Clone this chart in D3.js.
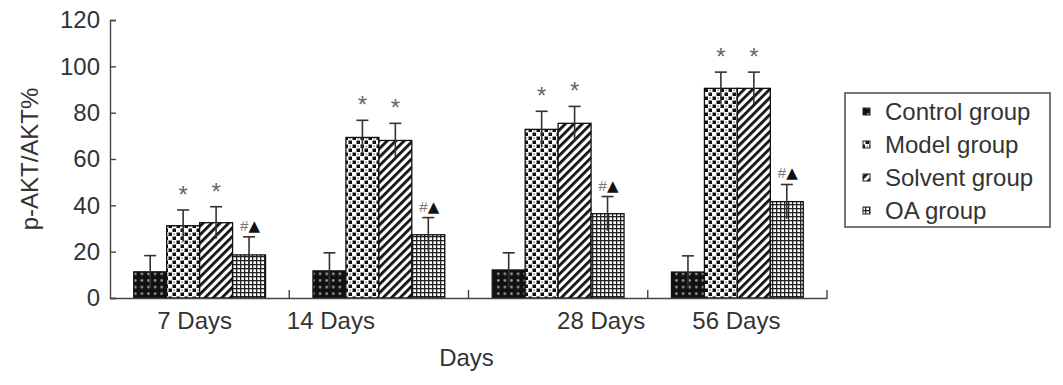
<!DOCTYPE html>
<html>
<head>
<meta charset="utf-8">
<script src="https://cdn.jsdelivr.net/npm/d3@7"></script>
<style>
  body { margin: 0; background: #fff; }
  text { font-family: "Liberation Sans", Arial, sans-serif; }
</style>
</head>
<body>
<div id="chart"></div>
<script>
// data
const categories = ['7 Days', '14 Days', '28 Days', '56 Days'];
const groups = ['Control group', 'Model group', 'Solvent group', 'OA group'];
const controlMean = [11.3, 11.7, 12.1, 11.2];
const controlSd = [7.0, 7.8, 7.4, 7.0];
const modelMean = [31.2, 69.3, 72.8, 90.5];
const modelSd = [6.8, 7.4, 7.8, 7.0];
const solventMean = [32.5, 68.0, 75.4, 90.5];
const solventSd = [6.9, 7.4, 7.3, 7.0];
const oaMean = [18.6, 27.3, 36.4, 41.6];
const oaSd = [7.8, 7.4, 7.4, 7.4];
const groupMarks = ['', '*', '*', '#▲'];
const yTicks = [0, 20, 40, 60, 80, 100, 120];

const means = [controlMean, modelMean, solventMean, oaMean];
const sds = [controlSd, modelSd, solventSd, oaSd];

const width = 1063, height = 385;
const margin = { top: 20, right: 236, bottom: 87, left: 110 };
// the category labels in the source sit off-centre
const labelShift = [-5, -48, 43, -1];

const svg = d3.select('#chart')
  .append('svg')
  .attr('width', width)
  .attr('height', height);

// fill patterns
const defs = svg.append('defs');

const pCtrl = defs.append('pattern').attr('id', 'p0')
  .attr('patternUnits', 'userSpaceOnUse').attr('width', 6.6).attr('height', 6.6);
pCtrl.append('rect').attr('width', 6.6).attr('height', 6.6).attr('fill', '#111');
pCtrl.append('circle').attr('cx', 3.3).attr('cy', 3.3).attr('r', 1.3).attr('fill', '#9a9a9a');

const pModel = defs.append('pattern').attr('id', 'p1')
  .attr('patternUnits', 'userSpaceOnUse').attr('width', 8).attr('height', 8);
pModel.append('rect').attr('width', 8).attr('height', 8).attr('fill', '#fff');
pModel.append('rect').attr('x', 0.5).attr('y', 0.5).attr('width', 3.5).attr('height', 3.5).attr('fill', '#111');
pModel.append('rect').attr('x', 4.5).attr('y', 4.5).attr('width', 3.5).attr('height', 3.5).attr('fill', '#111');
pModel.append('circle').attr('cx', 6.25).attr('cy', 2.25).attr('r', 0.9).attr('fill', '#999');

const pSolv = defs.append('pattern').attr('id', 'p2')
  .attr('patternUnits', 'userSpaceOnUse').attr('width', 6).attr('height', 6)
  .attr('patternTransform', 'rotate(45)');
pSolv.append('rect').attr('width', 6).attr('height', 6).attr('fill', '#fff');
pSolv.append('rect').attr('x', 0).attr('y', 0).attr('width', 2.8).attr('height', 6).attr('fill', '#111');

const pOa = defs.append('pattern').attr('id', 'p3')
  .attr('patternUnits', 'userSpaceOnUse').attr('width', 4).attr('height', 4);
pOa.append('rect').attr('width', 4).attr('height', 4).attr('fill', '#fff');
pOa.append('rect').attr('x', 0).attr('y', 0).attr('width', 1.3).attr('height', 4).attr('fill', '#222');
pOa.append('rect').attr('x', 0).attr('y', 0).attr('width', 4).attr('height', 1.3).attr('fill', '#222');

const fills = groups.map((g, i) => 'url(#p' + i + ')');

// scales
var x0 = d3.scaleBand()
  .domain(categories)
  .range([margin.left, width - margin.right]);

var x1 = d3.scaleBand()
  .domain(groups)
  .range([0, x0.bandwidth()])
  .paddingOuter(0.72);

var y = d3.scaleLinear()
  .domain([0, 120])
  .range([height - margin.bottom, margin.top]);

const y0 = y(0);

// rows: one per bar
const rows = [];
categories.forEach((c, ci) => {
  groups.forEach((g, gi) => {
    rows.push({ cat: c, group: g, gi: gi, mean: means[gi][ci], sd: sds[gi][ci] });
  });
});

// bars
svg.append('g')
  .selectAll('rect')
  .data(rows)
  .enter()
  .append('rect')
  .attr('x', d => x0(d.cat) + x1(d.group))
  .attr('y', d => y(d.mean))
  .attr('width', x1.bandwidth())
  .attr('height', d => y0 - y(d.mean))
  .attr('fill', d => fills[d.gi])
  .attr('stroke', '#111')
  .attr('stroke-width', 1.3);

// error bars
const cx = d => x0(d.cat) + x1(d.group) + x1.bandwidth() / 2;
const err = svg.append('g').attr('stroke', '#333').attr('stroke-width', 1.6);
err.selectAll('line.v')
  .data(rows)
  .enter()
  .append('line')
  .attr('class', 'v')
  .attr('x1', cx).attr('x2', cx)
  .attr('y1', d => y(d.mean - d.sd))
  .attr('y2', d => y(d.mean + d.sd));
err.selectAll('line.c')
  .data(rows)
  .enter()
  .append('line')
  .attr('class', 'c')
  .attr('x1', d => cx(d) - 6).attr('x2', d => cx(d) + 6)
  .attr('y1', d => y(d.mean + d.sd))
  .attr('y2', d => y(d.mean + d.sd));

// significance marks
svg.append('g')
  .selectAll('text')
  .data(rows.filter(d => groupMarks[d.gi] === '*'))
  .enter()
  .append('text')
  .attr('x', cx)
  .attr('y', d => y(d.mean + d.sd) - 7)
  .attr('text-anchor', 'middle')
  .attr('font-size', '24px')
  .attr('fill', '#666')
  .text('*');

const oaMarks = svg.append('g')
  .selectAll('text')
  .data(rows.filter(d => groupMarks[d.gi] === '#▲'))
  .enter()
  .append('text')
  .attr('x', d => cx(d) - 9)
  .attr('y', d => y(d.mean + d.sd) - 6)
  .attr('font-size', '15px');
oaMarks.append('tspan').attr('fill', '#777').text('#');
oaMarks.append('tspan').attr('fill', '#111').attr('font-family', 'DejaVu Sans').attr('font-size', '15px').text('▲');

// y axis
const yAxis = svg.append('g')
  .attr('transform', `translate(${margin.left},0)`)
  .call(d3.axisLeft(y).tickValues(yTicks).tickSize(-6).tickSizeOuter(-6).tickPadding(10));
yAxis.selectAll('path, line').attr('stroke', '#444').attr('stroke-width', 1.4);
yAxis.selectAll('text')
  .attr('font-size', '24px')
  .attr('font-family', '"Liberation Sans", Arial, sans-serif')
  .attr('fill', '#333');

// x axis
const xAxis = svg.append('g')
  .attr('transform', `translate(0,${y0})`)
  .call(d3.axisBottom(x0).tickSize(0).tickSizeOuter(0).tickPadding(14));
xAxis.select('.domain').attr('stroke', '#444').attr('stroke-width', 1.4);
xAxis.selectAll('text')
  .attr('font-size', '24px')
  .attr('font-family', '"Liberation Sans", Arial, sans-serif')
  .attr('fill', '#333')
  .attr('dx', (d, i) => labelShift[i]);

// separators between categories
svg.append('g')
  .selectAll('line')
  .data(categories)
  .enter()
  .append('line')
  .attr('x1', d => x0(d) + x0.bandwidth())
  .attr('x2', d => x0(d) + x0.bandwidth())
  .attr('y1', y0)
  .attr('y2', y0 - 8)
  .attr('stroke', '#444')
  .attr('stroke-width', 1.4);

// axis titles
svg.append('text')
  .attr('x', (margin.left + width - margin.right) / 2 - 2)
  .attr('y', 366)
  .attr('text-anchor', 'middle')
  .attr('font-size', '24px')
  .attr('fill', '#333')
  .text('Days');

svg.append('text')
  .attr('transform', `translate(38,${(y0 + margin.top) / 2}) rotate(-90)`)
  .attr('text-anchor', 'middle')
  .attr('font-size', '24px')
  .attr('fill', '#333')
  .text('p-AKT/AKT%');

// legend
const legend = svg.append('g').attr('transform', 'translate(845,93)');
legend.append('rect')
  .attr('width', 205)
  .attr('height', 134)
  .attr('fill', '#fff')
  .attr('stroke', '#555')
  .attr('stroke-width', 1.6);

const item = legend.selectAll('g.item')
  .data(groups)
  .enter()
  .append('g')
  .attr('class', 'item')
  .attr('transform', (d, i) => `translate(0,${18 + i * 33})`);
item.append('rect')
  .attr('x', 18).attr('y', -3)
  .attr('width', 7).attr('height', 7)
  .attr('fill', (d, i) => fills[i])
  .attr('stroke', '#222')
  .attr('stroke-width', 1);
item.append('text')
  .attr('x', 40)
  .attr('y', 9)
  .attr('font-size', '24px')
  .attr('fill', '#333')
  .text(d => d);
</script>
</body>
</html>
